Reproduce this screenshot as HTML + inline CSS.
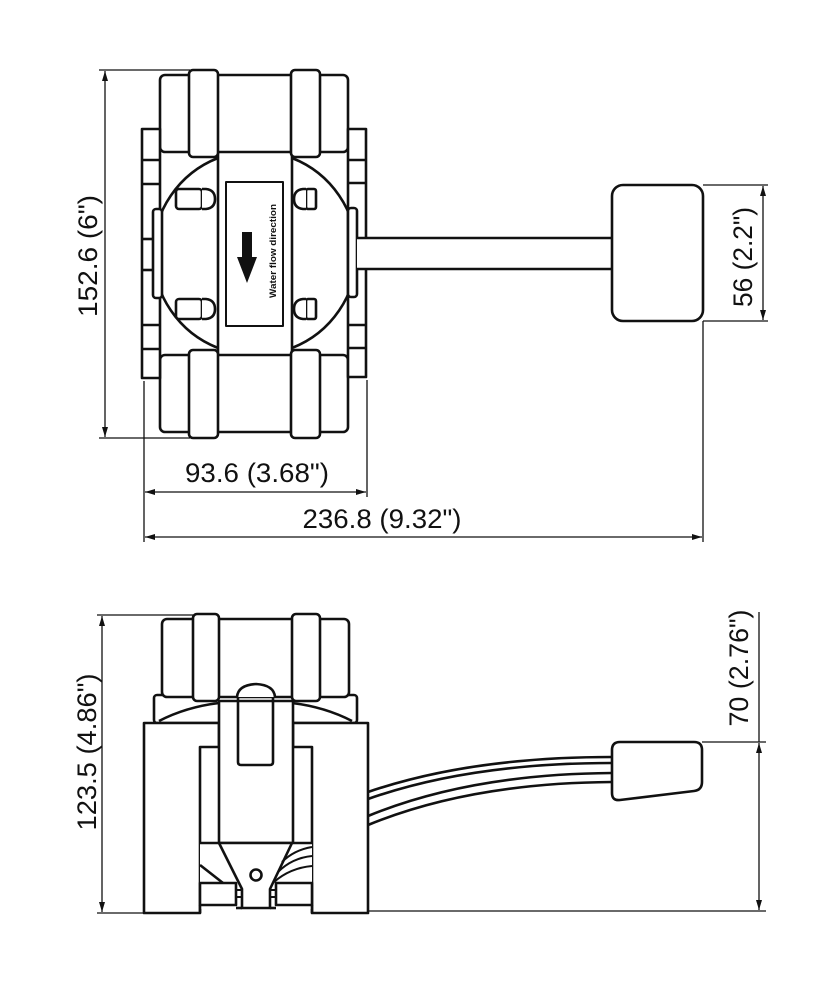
<!DOCTYPE html>
<html>
<head>
<meta charset="utf-8">
<style>
html,body{margin:0;padding:0;background:#fff;}
svg{display:block;}
text{font-family:"Liberation Sans",Arial,sans-serif;fill:#111;}
</style>
</head>
<body>
<svg width="831" height="1000" viewBox="0 0 831 1000" xmlns="http://www.w3.org/2000/svg">
<defs>
<marker id="a" viewBox="0 0 10 6" refX="10" refY="3" markerWidth="10" markerHeight="6" orient="auto-start-reverse" markerUnits="userSpaceOnUse">
<path d="M0,0 L10,3 L0,6 Z" fill="#111"/>
</marker>
</defs>

<!-- ================= TOP VIEW ================= -->
<g fill="#fff" stroke="#111" stroke-width="2.6" stroke-linejoin="round">
  <!-- circle (behind) -->
  <path d="M218,158 A102,102 0 0 0 218,348" fill="none"/>
  <path d="M292,158 A102,102 0 0 1 292,348" fill="none"/>
  <!-- central column -->
  <line x1="218" y1="150" x2="218" y2="356"/>
  <line x1="292" y1="150" x2="292" y2="356"/>
  <!-- body top & bottom portions -->
  <rect x="160" y="75" width="188" height="77" rx="5"/>
  <rect x="160" y="355" width="188" height="77" rx="5"/>
  <!-- bands -->
  <rect x="189" y="70" width="29" height="87" rx="4"/>
  <rect x="291" y="70" width="29" height="87" rx="4"/>
  <rect x="189" y="350" width="29" height="88" rx="4"/>
  <rect x="291" y="350" width="29" height="88" rx="4"/>
  <!-- left flange -->
  <rect x="142" y="129" width="18" height="249"/>
  <line x1="142" y1="160" x2="160" y2="160"/>
  <line x1="142" y1="184" x2="160" y2="184"/>
  <line x1="142" y1="325" x2="160" y2="325"/>
  <line x1="142" y1="349" x2="160" y2="349"/>
  <line x1="142" y1="239" x2="154" y2="239"/>
  <line x1="142" y1="270" x2="154" y2="270"/>
  <rect x="153" y="209" width="9" height="89" rx="3"/>
  <!-- right flange -->
  <rect x="348" y="129" width="18" height="248"/>
  <line x1="348" y1="160" x2="366" y2="160"/>
  <line x1="348" y1="183" x2="366" y2="183"/>
  <line x1="348" y1="325" x2="366" y2="325"/>
  <line x1="348" y1="348" x2="366" y2="348"/>
  <rect x="348" y="208" width="9" height="89" rx="3"/>
  <!-- pipe -->
  <rect x="357" y="238" width="255" height="31" stroke="none"/>
  <line x1="357" y1="238" x2="612" y2="238"/>
  <line x1="357" y1="269" x2="612" y2="269"/>
  <!-- sensor box -->
  <rect x="612" y="185" width="91" height="136" rx="11"/>
  <!-- flow label box -->
  <rect x="226" y="182" width="57" height="144" stroke-width="2"/>
  <!-- lugs left -->
  <rect x="176" y="189" width="26" height="20" rx="3"/>
  <path d="M202,189 H206 Q215,190 215,199 Q215,208 206,209 H202"/>
  <rect x="176" y="299" width="26" height="20" rx="3"/>
  <path d="M202,299 H206 Q215,300 215,309 Q215,318 206,319 H202"/>
  <!-- lugs right -->
  <rect x="306" y="189" width="10" height="20" rx="2"/>
  <path d="M306,189 H303 Q294,190 294,199 Q294,208 303,209 H306"/>
  <rect x="306" y="299" width="10" height="20" rx="2"/>
  <path d="M306,299 H303 Q294,300 294,309 Q294,318 303,319 H306"/>
</g>
<!-- flow arrow -->
<path d="M242,232 H252 V257 H257 L247,283 L237,257 H242 Z" fill="#111"/>
<text transform="translate(276,251) rotate(-90)" text-anchor="middle" font-size="9" font-weight="bold" textLength="94" lengthAdjust="spacingAndGlyphs">Water flow direction</text>

<!-- top view dimensions -->
<g stroke="#111" stroke-width="1.3" fill="none">
  <line x1="99" y1="70" x2="190" y2="70"/>
  <line x1="99" y1="438" x2="190" y2="438"/>
  <line x1="105" y1="71" x2="105" y2="437" marker-start="url(#a)" marker-end="url(#a)"/>
  <line x1="144" y1="381" x2="144" y2="542"/>
  <line x1="367" y1="380" x2="367" y2="497"/>
  <line x1="703" y1="321" x2="703" y2="542"/>
  <line x1="145" y1="492" x2="366" y2="492" marker-start="url(#a)" marker-end="url(#a)"/>
  <line x1="145" y1="537" x2="702" y2="537" marker-start="url(#a)" marker-end="url(#a)"/>
  <line x1="703" y1="185" x2="768" y2="185"/>
  <line x1="703" y1="321" x2="768" y2="321"/>
  <line x1="763" y1="186" x2="763" y2="320" marker-start="url(#a)" marker-end="url(#a)"/>
</g>
<text x="257" y="482" text-anchor="middle" font-size="27" textLength="144" lengthAdjust="spacingAndGlyphs">93.6 (3.68")</text>
<text x="382" y="528" text-anchor="middle" font-size="27" textLength="159" lengthAdjust="spacingAndGlyphs">236.8 (9.32")</text>
<text transform="translate(97,256) rotate(-90)" text-anchor="middle" font-size="27" textLength="122" lengthAdjust="spacingAndGlyphs">152.6 (6")</text>
<text transform="translate(752,257) rotate(-90)" text-anchor="middle" font-size="27" textLength="100" lengthAdjust="spacingAndGlyphs">56 (2.2")</text>

<!-- ================= SIDE VIEW ================= -->
<g fill="#fff" stroke="#111" stroke-width="2.6" stroke-linejoin="round">
  <!-- flange strip -->
  <rect x="154" y="695" width="203" height="28" rx="3"/>
  <path d="M159,721 Q186,707 219,703" fill="none"/>
  <path d="M352,721 Q325,707 292,703" fill="none"/>
  <!-- body top -->
  <rect x="162" y="619" width="187" height="78" rx="5"/>
  <rect x="193" y="614" width="26" height="87" rx="4"/>
  <rect x="292" y="614" width="28" height="87" rx="4"/>
  <!-- lower U body -->
  <path d="M144,723 H219 V747 H200 V913 H144 Z"/>
  <path d="M293,723 H368 V913 H312 V747 H293 Z"/>
  <!-- column -->
  <rect x="219" y="701" width="74" height="142"/>
  <!-- bump -->
  <path d="M237,697 Q238,685 256,684 Q274,685 275,697"/>
  <path d="M238,697 V762 Q238,765 241,765 H270 Q273,765 273,762 V697" fill="none"/>
  <!-- bottom mechanism -->
  <rect x="200" y="843" width="112" height="66" stroke="none"/>
  <line x1="200" y1="843" x2="312" y2="843"/>
  <path d="M219,843 L242,889 V908 H270 V889 L292,843" fill="none"/>
  <circle cx="256" cy="875" r="5.5"/>
  <rect x="200" y="883" width="36" height="22"/>
  <rect x="276" y="883" width="36" height="22"/>
  <line x1="200" y1="865" x2="223" y2="883"/>
  <line x1="236" y1="890" x2="242" y2="890" stroke-width="2"/>
  <line x1="236" y1="897" x2="242" y2="897" stroke-width="2"/>
  <line x1="236" y1="908" x2="242" y2="908"/>
  <line x1="270" y1="890" x2="276" y2="890" stroke-width="2"/>
  <line x1="270" y1="897" x2="276" y2="897" stroke-width="2"/>
  <line x1="270" y1="908" x2="276" y2="908"/>
  <line x1="200" y1="905" x2="200" y2="913"/>
  <line x1="312" y1="905" x2="312" y2="913"/>
  <!-- internal wires -->
  <path d="M282,862 Q294,850 312,847" fill="none" stroke-width="2"/>
  <path d="M278,872 Q292,858 312,856" fill="none" stroke-width="2"/>
  <path d="M274,882 Q290,868 312,866" fill="none" stroke-width="2"/>
  <!-- cable -->
  <path d="M368,792 Q470,757 612,757" fill="none"/>
  <path d="M368,799 Q470,763 612,763" fill="none"/>
  <path d="M368,816 Q470,774 612,773" fill="none"/>
  <path d="M368,825 Q470,783 612,782" fill="none"/>
  <!-- sensor -->
  <path d="M620,742 H694 Q702,742 702,750 V782 Q702,790 694,791 L620,800 Q612,801 612,793 V750 Q612,742 620,742 Z"/>
</g>

<!-- side view dimensions -->
<g stroke="#111" stroke-width="1.3" fill="none">
  <line x1="97" y1="615" x2="193" y2="615"/>
  <line x1="97" y1="913" x2="144" y2="913"/>
  <line x1="102" y1="616" x2="102" y2="912" marker-start="url(#a)" marker-end="url(#a)"/>
  <line x1="368" y1="911" x2="766" y2="911"/>
  <line x1="702" y1="742" x2="766" y2="742"/>
  <line x1="759" y1="612" x2="759" y2="742"/>
  <line x1="759" y1="743" x2="759" y2="910" marker-start="url(#a)" marker-end="url(#a)"/>
</g>
<text transform="translate(96,752) rotate(-90)" text-anchor="middle" font-size="27" textLength="157" lengthAdjust="spacingAndGlyphs">123.5 (4.86")</text>
<text transform="translate(748,668) rotate(-90)" text-anchor="middle" font-size="27" textLength="117" lengthAdjust="spacingAndGlyphs">70 (2.76")</text>
</svg>
</body>
</html>
